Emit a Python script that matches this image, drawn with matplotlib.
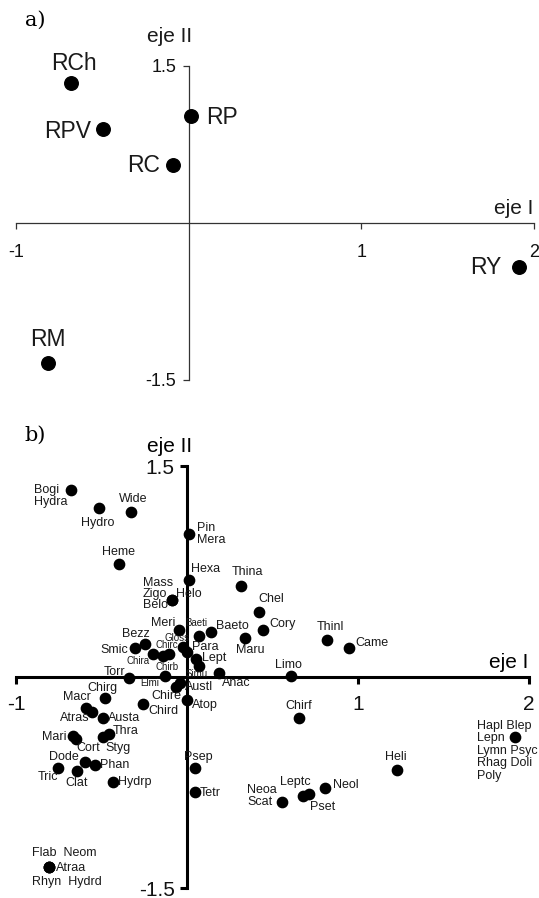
import matplotlib
matplotlib.use("Agg")
import matplotlib.pyplot as plt

plt.rcParams['font.family'] = ['Liberation Sans', 'DejaVu Sans']
plt.rcParams['axes.unicode_minus'] = False

# panel a: sites
a_names = ['RCh', 'RPV', 'RP', 'RC', 'RM', 'RY']
a_x = [-0.684, -0.498, 0.012, -0.093, -0.817, 1.913]
a_y = [1.337, 0.898, 1.020, 0.554, -1.337, -0.420]

# panel b: taxa
b_names = ['Bogi\nHydra', 'Hydro', 'Wide', 'Pin\nMera', 'Heme', 'Hexa', 'Thina',
           'Mass\nZigo\nBelo', 'Helo', 'Chel', 'Cory', 'Maru', 'Baeto', 'Baeti',
           'Meri', 'Gloss', 'Para', 'Bezz', 'Smic', 'Chira', 'Chirb', 'Chirc',
           'Lept', 'Simu', 'Anac', 'Limo', 'Thinl', 'Came', 'Torr', 'Elmi',
           'Chire', 'Austl', 'Atop', 'Chird', 'Chirf', 'Chirg', 'Macr', 'Atras',
           'Austa', 'Thra', 'Styg', 'Mari', 'Cort', 'Dode', 'Phan', 'Tric',
           'Clat', 'Hydrp', 'Psep', 'Tetr', 'Neoa\nScat', 'Leptc', 'Pset',
           'Neol', 'Heli', 'Hapl Blep\nLepn\nLymn Psyc\nRhag Doli\nPoly',
           'Flab  Neom', 'Atraa', 'Rhyn  Hydrd']
b_x = [-0.678, -0.515, -0.327, 0.012, -0.398, 0.012, 0.316,
       -0.088, -0.088, 0.421, 0.444, 0.339, 0.140, 0.070,
       -0.047, -0.023, 0.000, -0.246, -0.304, -0.199, -0.140, -0.105,
       0.053, 0.070, 0.187, 0.608, 0.819, 0.947, -0.339, -0.129,
       -0.064, -0.041, 0.000, -0.257, 0.655, -0.480, -0.591, -0.556,
       -0.491, -0.456, -0.491, -0.667, -0.649, -0.596, -0.538, -0.754,
       -0.643, -0.433, 0.047, 0.047, 0.556, 0.713, 0.678,
       0.807, 1.228, 1.918,
       -0.807, -0.807, -0.807]
b_y = [1.329, 1.201, 1.173, 1.016, 0.803, 0.689, 0.647,
       0.547, 0.547, 0.462, 0.334, 0.277, 0.320, 0.291,
       0.334, 0.213, 0.178, 0.235, 0.206, 0.163, 0.149, 0.163,
       0.128, 0.078, 0.028, 0.007, 0.263, 0.206, -0.007, 0.007,
       -0.071, -0.043, -0.163, -0.192, -0.291, -0.149, -0.220, -0.249,
       -0.291, -0.405, -0.426, -0.419, -0.441, -0.604, -0.625, -0.647,
       -0.668, -0.746, -0.647, -0.817, -0.888, -0.832, -0.846,
       -0.789, -0.661, -0.426,
       -1.350, -1.350, -1.350]

# label placement (pixel offsets from the point, horizontal alignment)
a_lab = {'RCh': (3, 20, 'center'), 'RPV': (-12, -2, 'right'), 'RP': (15, -1, 'left'),
         'RC': (-13, 0, 'right'), 'RM': (0, 23, 'center'), 'RY': (-17, -1, 'right')}
b_lab = {'Bogi\nHydra': (-37, -6, 'left'), 'Hydro': (-1, -15, 'center'),
         'Wide': (2, 13, 'center'), 'Pin\nMera': (8, 0, 'left'),
         'Heme': (0, 12, 'center'), 'Hexa': (2, 11, 'left'), 'Thina': (6, 14, 'center'),
         'Mass\nZigo\nBelo': (-29, 6, 'left'), 'Helo': (4, 6, 'left'),
         'Chel': (12, 13, 'center'), 'Cory': (6, 6, 'left'), 'Maru': (5, -12, 'center'),
         'Baeto': (5, 6, 'left'), 'Baeti': (-3, 13, 'center'), 'Meri': (-4, 7, 'right'),
         'Gloss': (-6, 9, 'center'), 'Para': (5, 5, 'left'), 'Bezz': (-9, 10, 'center'),
         'Smic': (-7, -2, 'right'), 'Chira': (-15, -7, 'center'),
         'Chirb': (4, -11, 'center'), 'Chirc': (-2, 9, 'center'), 'Lept': (6, 1, 'left'),
         'Simu': (-2, -8, 'center'), 'Anac': (3, -10, 'left'), 'Limo': (-3, 11, 'center'),
         'Thinl': (3, 13, 'center'), 'Came': (6, 5, 'left'), 'Torr': (-4, 6, 'right'),
         'Elmi': (-15, -7, 'center'), 'Chire': (-10, -9, 'center'),
         'Austl': (5, -4, 'left'), 'Atop': (5, -5, 'left'), 'Chird': (5, -7, 'left'),
         'Chirf': (0, 12, 'center'), 'Chirg': (-2, 10, 'center'),
         'Macr': (-9, 11, 'center'), 'Atras': (-17, -6, 'center'),
         'Austa': (5, 0, 'left'), 'Thra': (4, 3, 'left'), 'Styg': (15, -11, 'center'),
         'Mari': (-6, -1, 'right'), 'Cort': (12, -9, 'center'),
         'Dode': (-21, 5, 'center'), 'Phan': (5, 0, 'left'), 'Tric': (-10, -9, 'center'),
         'Clat': (0, -12, 'center'), 'Hydrp': (5, 0, 'left'), 'Psep': (3, 11, 'center'),
         'Tetr': (5, -1, 'left'), 'Neoa\nScat': (-5, 6, 'right'),
         'Leptc': (-14, 12, 'center'), 'Pset': (20, -11, 'center'),
         'Neol': (8, 3, 'left'), 'Heli': (-1, 13, 'center'),
         'Hapl Blep\nLepn\nLymn Psyc\nRhag Doli\nPoly': (-38, -14, 'left'),
         'Flab  Neom': (15, 14, 'center'), 'Atraa': (7, -1, 'left'),
         'Rhyn  Hydrd': (18, -15, 'center')}
b_small = {'Baeti', 'Gloss', 'Chira', 'Chirb', 'Chirc', 'Simu', 'Elmi'}
b_tight = {'Mass\nZigo\nBelo': 0.85, 'Bogi\nHydra': 1.0, 'Pin\nMera': 1.0,
           'Neoa\nScat': 0.95,
           'Hapl Blep\nLepn\nLymn Psyc\nRhag Doli\nPoly': 1.05}

W, H = 539, 898
fig = plt.figure(figsize=(W / 100, H / 100), dpi=100)


def make_axes(left, right, top, bottom, color, lw, ticklen, tsize, xpad, ypad):
    ax = fig.add_axes([left / W, 1 - bottom / H, (right - left) / W, (bottom - top) / H])
    ax.set_xlim(-1, 2)
    ax.set_ylim(-1.5, 1.5)
    for s in ['top', 'right']:
        ax.spines[s].set_visible(False)
    for s in ['left', 'bottom']:
        ax.spines[s].set_position(('data', 0))
        ax.spines[s].set_color(color)
        ax.spines[s].set_linewidth(lw)
    ax.set_xticks([-1, 1, 2])
    ax.set_xticklabels(['-1', '1', '2'])
    ax.set_yticks([-1.5, 1.5])
    ax.set_yticklabels(['-1.5', '1.5'])
    ax.tick_params(axis='both', direction='out', length=ticklen, width=lw,
                   color=color, labelsize=tsize, labelcolor='#111111')
    ax.tick_params(axis='x', pad=xpad)
    ax.tick_params(axis='y', pad=ypad)
    ax.patch.set_visible(False)
    return ax


# ---- panel a
ax1 = make_axes(16, 534, 66, 380, '#333333', 0.9, 4, 13, 11, 5)
ax1.scatter(a_x, a_y, s=95, color='black', zorder=3, clip_on=False)
for n, x, y in zip(a_names, a_x, a_y):
    dx, dy, ha = a_lab[n]
    ax1.annotate(n, (x, y), xytext=(dx, dy), textcoords='offset pixels',
                 ha=ha, va='center', fontsize=16.5, color='#1a1a1a',
                 annotation_clip=False)
ax1.annotate('eje II', (0, 1.5), xytext=(-19, 29), textcoords='offset pixels',
             ha='center', va='center', fontsize=15, color='#1a1a1a', annotation_clip=False)
ax1.annotate('eje I', (2, 0), xytext=(-1, 15), textcoords='offset pixels',
             ha='right', va='center', fontsize=15, color='#1a1a1a', annotation_clip=False)

# ---- panel b
ax2 = make_axes(16, 529, 466, 888, 'black', 2.2, 5, 15, 8, 4)
ax2.scatter(b_x, b_y, s=55, color='black', zorder=3, clip_on=False)
for n, x, y in zip(b_names, b_x, b_y):
    dx, dy, ha = b_lab[n]
    fs = 7 if n in b_small else 9
    ax2.annotate(n, (x, y), xytext=(dx, dy), textcoords='offset pixels',
                 ha=ha, va='center', fontsize=fs, color='#1a1a1a',
                 linespacing=b_tight.get(n, 1.2), multialignment='left',
                 annotation_clip=False)
ax2.annotate('eje II', (0, 1.5), xytext=(-17, 19), textcoords='offset pixels',
             ha='center', va='center', fontsize=15, color='black', annotation_clip=False)
ax2.annotate('eje I', (2, 0), xytext=(-1, 14), textcoords='offset pixels',
             ha='right', va='center', fontsize=15, color='black', annotation_clip=False)

fig.text(35 / W, 1 - 20 / H, 'a)', family='DejaVu Serif', fontsize=15,
         ha='center', va='center')
fig.text(35 / W, 1 - 435 / H, 'b)', family='DejaVu Serif', fontsize=15,
         ha='center', va='center')

fig.savefig('out.png', dpi=100)
